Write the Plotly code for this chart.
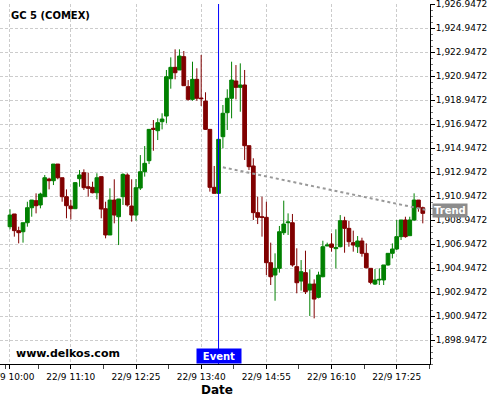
import plotly.graph_objects as go
import pandas as pd

# 5-minute candles, 22/9 10:00 .. 17:55
times = pd.date_range("2023-09-22 10:00", periods=96, freq="5min")

open_ = [1908.39, 1909.45, 1908.06, 1907.97, 1908.72, 1909.97, 1910.56, 1910.20, 1910.89, 1912.36,
         1912.22, 1913.61, 1912.47, 1910.89, 1910.11, 1909.89, 1912.39, 1912.89, 1911.72, 1911.67,
         1911.22, 1912.56, 1909.89, 1907.70, 1910.61, 1909.22, 1910.89, 1912.70, 1910.11, 1909.36,
         1911.61, 1912.97, 1913.89, 1916.59, 1916.39, 1917.14, 1917.61, 1920.72, 1921.67, 1921.45,
         1922.56, 1920.06, 1919.00, 1920.67, 1919.11, 1918.86, 1916.50, 1911.67, 1911.17, 1915.89,
         1917.89, 1919.09, 1920.53, 1920.00, 1920.20, 1915.14, 1913.45, 1909.56, 1909.22, 1909.17,
         1905.39, 1904.36, 1904.92, 1907.89, 1908.72, 1908.72, 1905.06, 1903.86, 1904.56, 1903.11,
         1903.61, 1902.50, 1904.22, 1906.78, 1906.95, 1906.56, 1906.72, 1908.89, 1908.25, 1907.06,
         1906.72, 1907.20, 1906.17, 1904.92, 1903.61, 1903.95, 1903.95, 1905.20, 1906.17, 1906.53,
         1907.56, 1908.95, 1907.64, 1908.95, 1910.61, 1909.97]
high = [1909.84, 1909.45, 1908.39, 1908.72, 1910.47, 1910.61, 1911.17, 1911.22, 1912.70, 1912.47,
        1913.61, 1913.61, 1912.47, 1911.50, 1910.61, 1912.11, 1913.11, 1913.17, 1912.89, 1912.14,
        1912.84, 1912.56, 1910.47, 1911.59, 1912.34, 1910.70, 1912.84, 1912.84, 1912.34, 1912.36,
        1914.36, 1915.11, 1916.50, 1917.28, 1917.42, 1917.84, 1921.45, 1922.50, 1923.17, 1923.17,
        1923.03, 1920.61, 1922.14, 1921.59, 1922.70, 1919.59, 1916.50, 1913.45, 1915.67, 1918.53,
        1919.84, 1922.14, 1921.86, 1922.00, 1921.45, 1915.14, 1914.09, 1910.89, 1910.89, 1910.47,
        1907.06, 1906.17, 1908.45, 1910.56, 1909.50, 1909.45, 1906.59, 1905.61, 1906.39, 1904.84,
        1904.00, 1904.64, 1907.22, 1907.06, 1907.84, 1908.17, 1909.36, 1909.22, 1908.89, 1908.06,
        1907.61, 1907.47, 1907.00, 1904.92, 1904.86, 1904.92, 1905.20, 1906.17, 1907.00, 1908.95,
        1908.95, 1909.22, 1909.22, 1911.17, 1910.61, 1910.06]
low = [1908.17, 1907.56, 1907.00, 1907.06, 1908.39, 1909.22, 1909.50, 1909.92, 1910.89, 1911.50,
       1911.86, 1912.34, 1910.47, 1909.09, 1909.00, 1909.86, 1911.72, 1911.45, 1910.89, 1911.17,
       1910.67, 1909.09, 1907.42, 1907.70, 1908.67, 1906.86, 1910.20, 1910.06, 1908.81, 1908.89,
       1911.45, 1912.56, 1913.61, 1914.72, 1915.61, 1916.50, 1917.00, 1919.89, 1920.67, 1921.45,
       1920.14, 1918.89, 1918.89, 1918.89, 1918.45, 1916.45, 1911.31, 1911.17, 1911.17, 1914.92,
       1916.45, 1917.42, 1919.00, 1917.97, 1913.95, 1913.11, 1908.95, 1908.61, 1907.56, 1904.36,
       1903.53, 1902.22, 1904.56, 1907.70, 1907.70, 1905.06, 1902.84, 1903.06, 1902.78, 1900.95,
       1900.75, 1902.42, 1904.17, 1906.78, 1906.31, 1904.92, 1906.67, 1906.22, 1906.72, 1906.31,
       1906.20, 1905.89, 1904.92, 1903.59, 1903.53, 1903.53, 1903.53, 1905.14, 1905.75, 1906.45,
       1907.28, 1907.47, 1907.64, 1908.86, 1909.64, 1908.67]
close = [1909.36, 1908.06, 1907.89, 1908.72, 1909.97, 1910.61, 1910.14, 1911.11, 1912.47, 1912.22,
         1913.61, 1912.47, 1910.89, 1910.14, 1909.89, 1912.06, 1912.70, 1911.64, 1911.59, 1911.22,
         1912.47, 1909.86, 1907.70, 1910.61, 1909.36, 1910.70, 1912.75, 1910.20, 1909.36, 1911.64,
         1912.97, 1913.67, 1916.50, 1916.50, 1917.06, 1917.36, 1920.89, 1921.67, 1921.22, 1922.61,
         1920.14, 1919.00, 1920.67, 1919.09, 1919.06, 1916.50, 1911.67, 1911.17, 1915.67, 1917.84,
         1919.09, 1920.61, 1920.00, 1920.20, 1915.14, 1913.39, 1909.56, 1909.17, 1909.17, 1905.39,
         1904.22, 1904.92, 1907.97, 1908.61, 1908.78, 1905.20, 1903.72, 1904.64, 1902.97, 1903.61,
         1902.36, 1904.36, 1906.72, 1906.86, 1906.67, 1906.64, 1908.89, 1908.25, 1907.14, 1906.86,
         1907.20, 1906.17, 1904.97, 1903.75, 1903.95, 1904.00, 1905.20, 1906.17, 1906.53, 1907.56,
         1908.95, 1907.56, 1908.95, 1910.61, 1909.97, 1909.50]

x_tickvals = ["2023-09-22 10:00", "2023-09-22 11:10", "2023-09-22 12:25", "2023-09-22 13:40",
              "2023-09-22 14:55", "2023-09-22 16:10", "2023-09-22 17:25"]
x_ticktext = ["22/9 10:00", "22/9 11:10", "22/9 12:25", "22/9 13:40",
              "22/9 14:55", "22/9 16:10", "22/9 17:25"]

y_tickvals = [1898.9472, 1900.9472, 1902.9472, 1904.9472, 1906.9472, 1908.9472, 1910.9472,
              1912.9472, 1914.9472, 1916.9472, 1918.9472, 1920.9472, 1922.9472, 1924.9472,
              1926.9472]

event_time = "2023-09-22 14:00"
trend_times = ["2023-09-22 14:05", "2023-09-22 17:58"]
trend_values = [1913.34, 1909.80]
trend_label_value = 1909.70

title_text = "GC 5 (COMEX)"
watermark = "www.delkos.com"

y_tick0 = 1896.9472
y_range = [1896.9472, 1926.9472]
x_range = ["2023-09-22 09:48:30", "2023-09-22 18:03:18"]

FONT = "DejaVu Sans"
GREEN = "#008000"
RED = "#800000"
GRID = "#cccccc"

fig = go.Figure()
fig.add_trace(go.Candlestick(
    x=times, open=open_, high=high, low=low, close=close,
    increasing=dict(line=dict(color=GREEN, width=1), fillcolor=GREEN),
    decreasing=dict(line=dict(color=RED, width=1), fillcolor=RED),
    whiskerwidth=0, showlegend=False, hoverinfo="skip",
))
fig.add_trace(go.Scatter(
    x=trend_times, y=trend_values, mode="lines",
    line=dict(color="#999999", width=2, dash="dot"),
    showlegend=False, hoverinfo="skip",
))

fig.add_shape(type="line", xref="x", yref="paper", x0=event_time, x1=event_time,
              y0=0, y1=1, line=dict(color="#0000ff", width=1))

fig.add_annotation(x=event_time, xref="x", y=0, yref="paper", yanchor="bottom",
                   text="<b>Event</b>", showarrow=False, bgcolor="#0000ff",
                   font=dict(family=FONT, size=10, color="white"), borderpad=0,
                   width=44, height=14)
fig.add_annotation(x=1.0, xref="paper", xshift=2, xanchor="left", y=trend_label_value, yref="y",
                   text="<b>Trend</b>", showarrow=False, bgcolor="#8c8c8c",
                   font=dict(family=FONT, size=10, color="white"), borderpad=1)
fig.add_annotation(x=0, xref="paper", xshift=9, xanchor="left", y=1, yref="paper",
                   yshift=-11, yanchor="middle",
                   text="<b>" + title_text + "</b>", showarrow=False,
                   font=dict(family=FONT, size=10, color="black"))
fig.add_annotation(x=0, xref="paper", xshift=14, xanchor="left", y=0, yref="paper",
                   yshift=11, yanchor="middle",
                   text="<b>" + watermark + "</b>", showarrow=False,
                   font=dict(family=FONT, size=11, color="black"))
fig.add_annotation(x=0.5, xref="paper", xshift=2, y=0, yref="paper", yshift=-26, yanchor="middle",
                   text="<b>Date</b>", showarrow=False,
                   font=dict(family=FONT, size=12, color="black"))

fig.update_layout(
    width=500, height=400,
    margin=dict(l=0, r=70, t=4, b=36, autoexpand=False),
    paper_bgcolor="white", plot_bgcolor="white",
    font=dict(family=FONT, size=9, color="black"),
    boxgap=0.1, boxgroupgap=0.05,
    xaxis=dict(
        type="date", range=x_range, rangeslider=dict(visible=False),
        tickvals=x_tickvals, ticktext=x_ticktext, ticklabeloverflow="allow",
        automargin=False,
        ticks="outside", ticklen=4, tickcolor="black",
        showline=True, linecolor="black", linewidth=1,
        showgrid=True, gridcolor=GRID, griddash="3px,2px", gridwidth=1,
        minor=dict(dtick=37.5 * 60 * 1000, tick0="2023-09-22 11:10", ticks="outside",
                   ticklen=4, tickcolor="#444444", showgrid=False),
        zeroline=False, tickfont=dict(size=9),
    ),
    yaxis=dict(
        side="right", range=y_range, tickvals=y_tickvals, tickformat=",.4f",
        ticklabeloverflow="allow", automargin=False,
        ticks="outside", ticklen=4, tickcolor="black", ticklabelstandoff=-1,
        showline=True, linecolor="black", linewidth=1,
        showgrid=True, gridcolor=GRID, griddash="3px,2px", gridwidth=1,
        minor=dict(dtick=0.5, tick0=y_tick0, ticks="outside", ticklen=2,
                   tickcolor="#777777", showgrid=False),
        zeroline=False, tickfont=dict(size=9),
    ),
)

fig.write_html("out.html", config={"displayModeBar": False},
               post_script="document.body.style.margin='0';")
